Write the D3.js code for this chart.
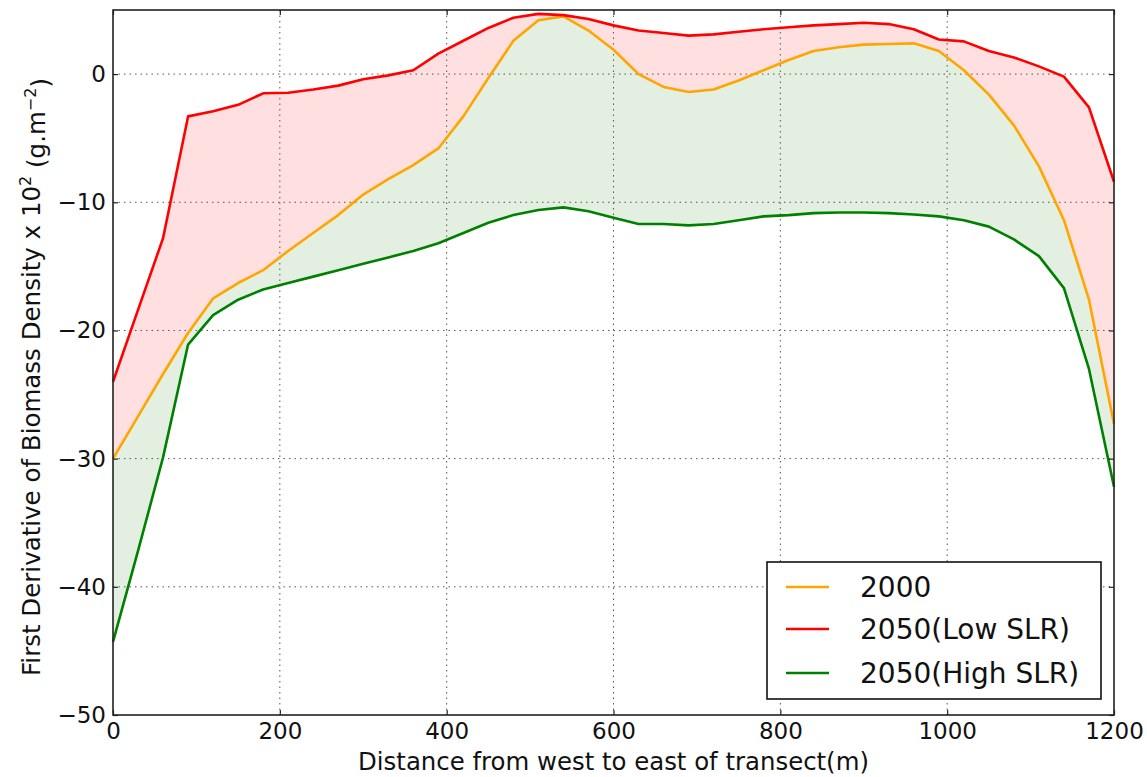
<!DOCTYPE html>
<html>
<head>
<meta charset="utf-8">
<script src="https://cdn.jsdelivr.net/npm/d3@7"></script>
<style>
  html, body { margin: 0; padding: 0; background: #fff; }
  svg { display: block; font-family: "DejaVu Sans", sans-serif; }
</style>
</head>
<body>
<svg id="chart" width="1147" height="777"></svg>
<script>
// ---------- data ----------
const distance = [0, 30, 60, 90, 120, 150, 180, 210, 240, 270, 300, 330, 360, 390, 420, 450, 480, 510, 540, 570, 600,
                  630, 660, 690, 720, 750, 780, 810, 840, 870, 900, 930, 960, 990, 1020, 1050, 1080, 1110, 1140, 1170, 1200];
const y2000 = [-30.0, -26.7, -23.4, -20.2, -17.5, -16.3, -15.3, -13.8, -12.4, -11.0, -9.4, -8.2, -7.1, -5.8, -3.3, -0.3, 2.6, 4.2, 4.5, 3.4, 1.9,
               0.0, -1.0, -1.4, -1.2, -0.5, 0.3, 1.1, 1.8, 2.1, 2.3, 2.35, 2.4, 1.8, 0.3, -1.6, -4.0, -7.2, -11.4, -17.6, -27.3];
const yLowSLR = [-24.0, -18.4, -12.8, -3.3, -2.9, -2.4, -1.5, -1.45, -1.2, -0.9, -0.4, -0.1, 0.3, 1.6, 2.6, 3.6, 4.4, 4.7, 4.6, 4.3, 3.8,
                 3.4, 3.2, 3.0, 3.1, 3.3, 3.5, 3.65, 3.8, 3.9, 4.0, 3.9, 3.5, 2.7, 2.55, 1.8, 1.3, 0.6, -0.2, -2.6, -8.4];
const yHighSLR = [-44.3, -37.2, -29.9, -21.1, -18.8, -17.6, -16.8, -16.3, -15.8, -15.3, -14.8, -14.3, -13.8, -13.2, -12.4, -11.6, -11.0, -10.6, -10.4, -10.7, -11.2,
                  -11.7, -11.7, -11.8, -11.7, -11.4, -11.1, -11.0, -10.85, -10.8, -10.8, -10.85, -10.95, -11.1, -11.4, -11.9, -12.9, -14.2, -16.7, -23.0, -32.2];
const seriesNames = ["2000", "2050(Low SLR)", "2050(High SLR)"];
const seriesColors = ["#ffa500", "#ff0000", "#008000"];
const xTicks = [0, 200, 400, 600, 800, 1000, 1200];
const yTicks = [0, -10, -20, -30, -40, -50];

// ---------- layout ----------
const svg = d3.select("#chart");
const pL = 113, pR = 1114, pT = 10, pB = 715;
const x = d3.scaleLinear().domain([0, 1200]).range([pL, pR]);
const y = d3.scaleLinear().domain([-50, 5]).range([pB, pT]);

const rows = distance.map((d, i) => ({ d, a: y2000[i], lo: yLowSLR[i], hi: yHighSLR[i] }));

// fills
const areaPink = d3.area().x(r => x(r.d)).y0(r => y(r.a)).y1(r => y(r.lo));
const areaGreen = d3.area().x(r => x(r.d)).y0(r => y(r.hi)).y1(r => y(r.a));
svg.append("path").datum(rows).attr("d", areaPink).attr("fill", "#ffdfdf");
svg.append("path").datum(rows).attr("d", areaGreen).attr("fill", "#e3f0e1");

// grid
const grid = svg.append("g").attr("stroke", "#555").attr("stroke-width", 1).attr("stroke-dasharray", "1.5,4");
xTicks.slice(1, -1).forEach(t => grid.append("line").attr("x1", x(t)).attr("x2", x(t)).attr("y1", pT).attr("y2", pB));
yTicks.slice(0, -1).forEach(t => grid.append("line").attr("x1", pL).attr("x2", pR).attr("y1", y(t)).attr("y2", y(t)));

// lines
const keys = ["a", "lo", "hi"];
keys.forEach((k, i) => {
  const line = d3.line().x(r => x(r.d)).y(r => y(r[k]));
  svg.append("path").datum(rows).attr("d", line)
    .attr("fill", "none").attr("stroke", seriesColors[i]).attr("stroke-width", 2.6)
    .attr("stroke-linejoin", "round");
});

// axes (ticks inside, labels outside)
const fmt = v => (v < 0 ? "\u2212" + Math.abs(v) : String(v));
const xAxisB = d3.axisBottom(x).tickValues(xTicks).tickFormat(fmt).tickSizeInner(-5).tickSizeOuter(0).tickPadding(8);
const xAxisT = d3.axisTop(x).tickValues(xTicks).tickFormat("").tickSizeInner(-5).tickSizeOuter(0);
const yAxisL = d3.axisLeft(y).tickValues(yTicks).tickFormat(fmt).tickSizeInner(-5).tickSizeOuter(0).tickPadding(7);
const yAxisR = d3.axisRight(y).tickValues(yTicks).tickFormat("").tickSizeInner(-5).tickSizeOuter(0);

function styleAxis(g) {
  g.select(".domain").remove();
  g.selectAll(".tick line").attr("stroke", "#222").attr("stroke-width", 1.2);
  g.selectAll(".tick text").attr("fill", "#111").style("font-family", "DejaVu Sans").style("font-size", "23px");
}
svg.append("g").attr("transform", `translate(0,${pB})`).call(xAxisB).call(styleAxis)
  .selectAll(".tick text").attr("dy", "0.71em");
svg.append("g").attr("transform", `translate(0,${pT})`).call(xAxisT).call(styleAxis);
svg.append("g").attr("transform", `translate(${pL},0)`).call(yAxisL).call(styleAxis);
svg.append("g").attr("transform", `translate(${pR},0)`).call(yAxisR).call(styleAxis);

// frame
svg.append("rect").attr("x", pL).attr("y", pT).attr("width", pR - pL).attr("height", pB - pT)
  .attr("fill", "none").attr("stroke", "#222").attr("stroke-width", 1.6);

// axis labels
svg.append("text").attr("x", (pL + pR) / 2).attr("y", 770).attr("text-anchor", "middle")
  .style("font-size", "24.4px").attr("fill", "#111").text("Distance from west to east of transect(m)");

const yl = svg.append("text").attr("transform", "translate(40,377) rotate(-90)").attr("text-anchor", "middle")
  .style("font-size", "24.5px").attr("fill", "#111");
yl.append("tspan").text("First Derivative of Biomass Density x 10");
yl.append("tspan").attr("dy", "-0.55em").style("font-size", "16px").text("2");
yl.append("tspan").attr("dy", "0.55em").text(" (g.m");
yl.append("tspan").attr("dy", "-0.55em").style("font-size", "16px").text("\u22122");
yl.append("tspan").attr("dy", "0.55em").text(")");

// legend
const lg = svg.append("g");
lg.append("rect").attr("x", 767).attr("y", 562).attr("width", 334).attr("height", 137)
  .attr("fill", "#fff").attr("stroke", "#111").attr("stroke-width", 1.6);
const rowY = [587, 629, 673];
seriesNames.forEach((n, i) => {
  lg.append("line").attr("x1", 786).attr("x2", 829).attr("y1", rowY[i]).attr("y2", rowY[i])
    .attr("stroke", seriesColors[i]).attr("stroke-width", 2.6);
  lg.append("text").attr("x", 860).attr("y", rowY[i]).attr("dy", "0.36em")
    .style("font-size", "28px").attr("fill", "#111").text(n);
});
</script>
</body>
</html>
